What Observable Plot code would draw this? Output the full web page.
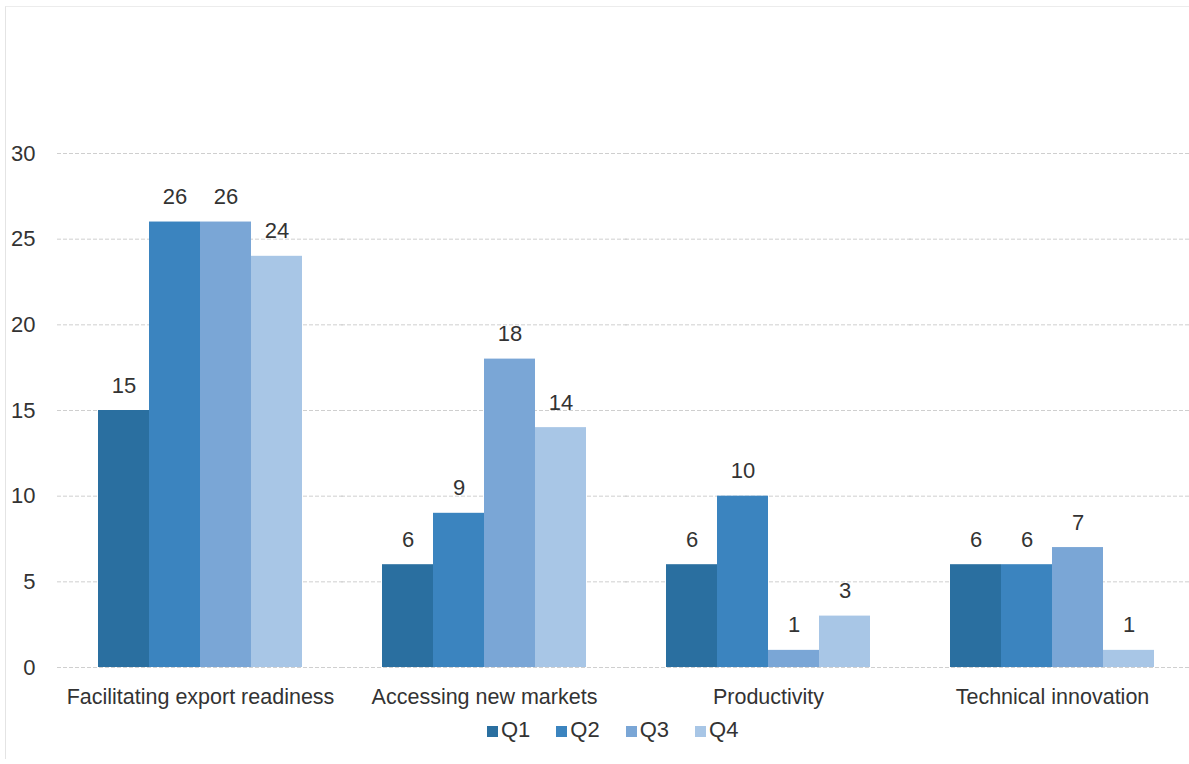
<!DOCTYPE html>
<html>
<head>
<meta charset="utf-8">
<script src="https://cdn.jsdelivr.net/npm/d3@7"></script>
<script src="https://cdn.jsdelivr.net/npm/@observablehq/plot@0.6"></script>
<style>
  body { margin: 0; background: #fff; }
  #wrap { position: relative; width: 1189px; height: 764px; overflow: hidden; font-family: "Liberation Sans", Arial, sans-serif; }
  #frame { position: absolute; left: 5px; top: 6px; width: 1200px; height: 752px; border-left: 1px solid #e4e4e4; border-top: 1px solid #ececec; }
  #chart { position: absolute; left: 0; top: 0; }
  #legend { position: absolute; top: 717px; left: 487px; display: flex; gap: 26px; font-size: 22px; color: #333; }
  #legend span.item { display: flex; align-items: center; }
  #legend span.sw { display: inline-block; width: 11px; height: 11px; margin-right: 3px; margin-top: 3px; }
</style>
</head>
<body>
<div id="wrap">
  <div id="frame"></div>
  <div id="chart"></div>
  <div id="legend"></div>
</div>
<script>
const categories = ["Facilitating export readiness", "Accessing new markets", "Productivity", "Technical innovation"];
const quarters = ["Q1", "Q2", "Q3", "Q4"];
const q1 = [15, 6, 6, 6];
const q2 = [26, 9, 10, 6];
const q3 = [26, 18, 1, 7];
const q4 = [24, 14, 3, 1];
const yTicks = [0, 5, 10, 15, 20, 25, 30];
const colors = ["#2a6fa0", "#3b84bf", "#7aa6d6", "#a8c6e6"];

const series = [q1, q2, q3, q4];
const data = [];
categories.forEach((c, i) => {
  quarters.forEach((q, j) => data.push({category: c, quarter: q, value: series[j][i]}));
});

const plot = Plot.plot({
  width: 1189,
  height: 715,
  marginLeft: 57,
  marginRight: -5,
  marginTop: 153,
  marginBottom: 48,
  style: {fontFamily: "'Liberation Sans', Arial, sans-serif", fontSize: "21px", color: "#333", background: "transparent"},
  fx: {domain: categories, paddingInner: 0.276, paddingOuter: 0.138, label: null},
  x: {domain: quarters, padding: 0, axis: null},
  y: {domain: [0, 30], label: null, ticks: yTicks},
  color: {domain: quarters, range: colors},
  marks: [
    Plot.ruleY(yTicks, {stroke: "#cfcfcf", strokeWidth: 1, strokeDasharray: "4,2", insetLeft: -40, insetRight: -40}),
    Plot.barY(data, {fx: "category", x: "quarter", y: "value", fill: "quarter"}),
    Plot.text(data, {fx: "category", x: "quarter", y: "value", text: d => String(d.value), dy: -25, fill: "#333", fontSize: 22}),
    Plot.axisY({ticks: yTicks, tickSize: 0, tickPadding: 62, fontSize: 22, label: null}),
    Plot.axisFx({anchor: "bottom", tickSize: 0, tickPadding: 21, fontSize: 21.5, label: null})
  ]
});
document.getElementById("chart").appendChild(plot);

const legend = document.getElementById("legend");
quarters.forEach((q, i) => {
  const item = document.createElement("span");
  item.className = "item";
  const sw = document.createElement("span");
  sw.className = "sw";
  sw.style.background = colors[i];
  item.appendChild(sw);
  item.appendChild(document.createTextNode(q));
  legend.appendChild(item);
});
</script>
</body>
</html>
